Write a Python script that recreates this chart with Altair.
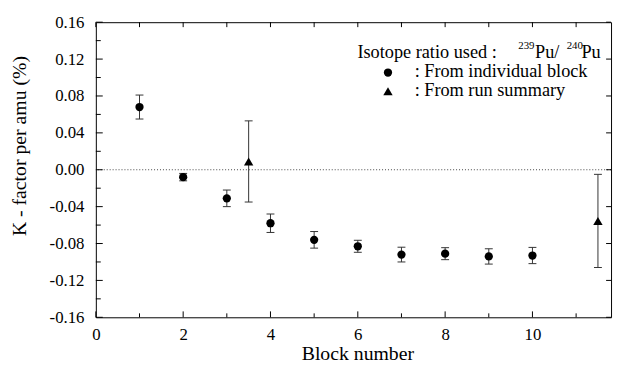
import altair as alt
import pandas as pd

# ---- data ----
blocks = [1, 2, 3, 4, 5, 6, 7, 8, 9, 10]
k_values = [0.068, -0.008, -0.031, -0.058, -0.076, -0.083, -0.092, -0.091, -0.094, -0.093]
k_err = [0.013, 0.004, 0.009, 0.010, 0.009, 0.0065, 0.008, 0.0065, 0.0083, 0.0088]

summary_x = [3.5, 11.5]
summary_values = [0.009, -0.0555]
summary_err = [0.044, 0.0505]

x_tick_values = [0, 1, 2, 3, 4, 5, 6, 7, 8, 9, 10, 11]
x_major = [0, 2, 4, 6, 8, 10]
x_minor = [1, 3, 5, 7, 9, 11]
y_label_values = [-0.16, -0.12, -0.08, -0.04, 0.0, 0.04, 0.08, 0.12, 0.16]
y_minor_values = [-0.14, -0.10, -0.06, -0.02, 0.02, 0.06, 0.10, 0.14]

FONT = "Liberation Serif"
W, H = 522, 299

blk = pd.DataFrame({"x": blocks, "y": k_values, "e": k_err})
blk["lo"] = blk["y"] - blk["e"]
blk["hi"] = blk["y"] + blk["e"]
summ = pd.DataFrame({"x": summary_x, "y": summary_values, "e": summary_err})
summ["lo"] = summ["y"] - summ["e"]
summ["hi"] = summ["y"] + summ["e"]
both = pd.concat([blk, summ], ignore_index=True)
caps = pd.DataFrame({"x": list(both["x"]) * 2, "y": list(both["lo"]) + list(both["hi"])})

xs = alt.Scale(domain=[0, 11.8], nice=False, zero=False)
ys = alt.Scale(domain=[-0.16, 0.16], nice=False, zero=False)

x_axis = alt.Axis(values=x_major, format="d", title="Block number", grid=False, domain=False,
                  ticks=False, tickSize=0, labelPadding=9, labelFont=FONT, labelFontSize=17,
                  labelColor="black", labelOverlap=False, labelFlush=False,
                  titleFont=FONT, titleFontSize=20, titleFontWeight="normal",
                  titleColor="black", titleX=265, titleY=43, titleBaseline="alphabetic",
                  titleAlign="center")
y_axis = alt.Axis(values=y_label_values, title="K - factor per amu (%)", grid=False, domain=False,
                  ticks=False, tickSize=0, labelPadding=12, labelFont=FONT, labelFontSize=17,
                  labelColor="black", labelOverlap=False, labelFlush=False,
                  labelExpr="replace(format(datum.value, '.2f'), '\u2212', '-')",
                  titleFont=FONT, titleFontSize=20, titleFontWeight="normal", titleColor="black",
                  titleX=-77, titleY=125, titleBaseline="middle", titleAlign="center")


def X(field):
    return alt.X(field, type="quantitative", scale=xs, axis=x_axis)


def Y(field):
    return alt.Y(field, type="quantitative", scale=ys, axis=y_axis)


zero = alt.Chart(pd.DataFrame({"z": [0.0]})).mark_rule(
    strokeDash=[1, 2], color="#444", strokeWidth=1
).encode(y=Y("z"))

bars = alt.Chart(both).mark_rule(color="#333", strokeWidth=1).encode(
    x=X("x"), y=Y("lo"), y2="hi:Q",
)
capmarks = alt.Chart(caps).mark_point(
    shape="M-1,0H1", size=64, filled=False, color="#333", strokeWidth=1, opacity=1
).encode(x=X("x"), y=Y("y"))

dots = alt.Chart(blk).mark_point(shape="circle", filled=True, size=70, color="black",
                                 opacity=1).encode(x=X("x"), y=Y("y"))
tris = alt.Chart(summ).mark_point(shape="triangle-up", filled=True, size=90, color="black",
                                  opacity=1).encode(x=X("x"), y=Y("y"))

# inward ticks on all four sides
xt = pd.DataFrame({"x": x_tick_values})
xmaj = pd.DataFrame({"x": x_major})
xmin = pd.DataFrame({"x": x_minor})
ymaj = pd.DataFrame({"y": y_label_values})
ymin = pd.DataFrame({"y": y_minor_values})

tick_style = dict(color="black", strokeWidth=1)
t_bottom_major = alt.Chart(xmaj).mark_rule(**tick_style).encode(
    x=X("x"), y=alt.value(H), y2=alt.value(H - 6))
t_bottom_minor = alt.Chart(xmin).mark_rule(**tick_style).encode(
    x=X("x"), y=alt.value(H), y2=alt.value(H - 4))
t_top = alt.Chart(xt).mark_rule(**tick_style).encode(
    x=X("x"), y=alt.value(0), y2=alt.value(5))
t_left_major = alt.Chart(ymaj).mark_rule(**tick_style).encode(
    y=Y("y"), x=alt.value(0), x2=alt.value(7))
t_left_minor = alt.Chart(ymin).mark_rule(**tick_style).encode(
    y=Y("y"), x=alt.value(0), x2=alt.value(5))
t_right = alt.Chart(ymaj).mark_rule(**tick_style).encode(
    y=Y("y"), x=alt.value(W), x2=alt.value(W - 5))

# legend built from text and point marks
txt = dict(font=FONT, color="black", align="left", baseline="alphabetic")
one = pd.DataFrame({"a": [0]})
leg_title = alt.Chart(one).mark_text(fontSize=18.5, **txt).encode(
    x=alt.value(265), y=alt.value(36), text=alt.value("Isotope ratio used :"))
leg_sup1 = alt.Chart(one).mark_text(fontSize=11, **txt).encode(
    x=alt.value(428), y=alt.value(27), text=alt.value("239"))
leg_pu1 = alt.Chart(one).mark_text(fontSize=18.5, **txt).encode(
    x=alt.value(445), y=alt.value(36), text=alt.value("Pu/"))
leg_sup2 = alt.Chart(one).mark_text(fontSize=11, **txt).encode(
    x=alt.value(477), y=alt.value(27), text=alt.value("240"))
leg_pu2 = alt.Chart(one).mark_text(fontSize=18.5, **txt).encode(
    x=alt.value(492), y=alt.value(36), text=alt.value("Pu"))
leg_dot = alt.Chart(one).mark_point(shape="circle", filled=True, size=70, color="black",
                                    opacity=1).encode(x=alt.value(296), y=alt.value(51))
leg_tri = alt.Chart(one).mark_point(shape="triangle-up", filled=True, size=90, color="black",
                                    opacity=1).encode(x=alt.value(296), y=alt.value(70))
leg_t1 = alt.Chart(one).mark_text(fontSize=18.5, **txt).encode(
    x=alt.value(323), y=alt.value(56), text=alt.value(": From individual block"))
leg_t2 = alt.Chart(one).mark_text(fontSize=18.5, **txt).encode(
    x=alt.value(323), y=alt.value(75), text=alt.value(": From run summary"))

chart = alt.layer(
    zero, bars, capmarks, dots, tris,
    t_bottom_major, t_bottom_minor, t_top, t_left_major, t_left_minor, t_right,
    leg_title, leg_sup1, leg_pu1, leg_sup2, leg_pu2, leg_dot, leg_tri, leg_t1, leg_t2,
).properties(
    width=W, height=H,
    autosize=alt.AutoSizeParams(type="none"),
    padding={"left": 89, "top": 12, "right": 3, "bottom": 50},
    background="white",
).configure_view(stroke="black", strokeWidth=1).configure_axis(labelOverlap=False)

chart.save("out.html", embed_options={"renderer": "svg", "actions": False})
